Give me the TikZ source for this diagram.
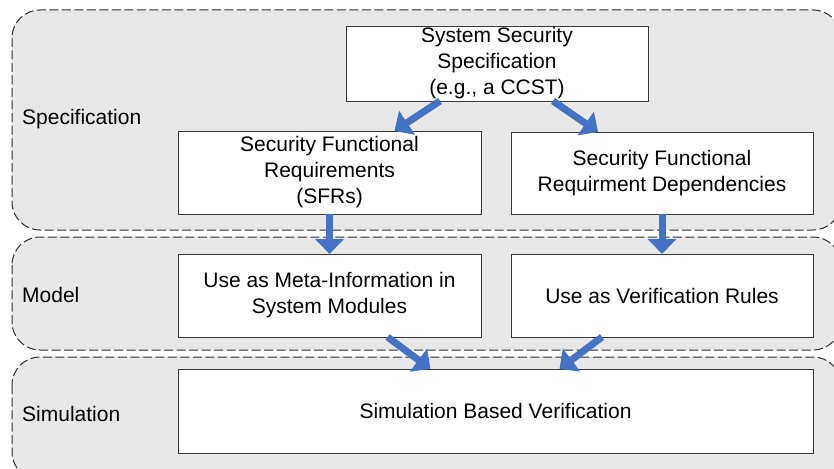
\documentclass[tikz,border=0pt]{standalone}
\usepackage{fontspec}
\setmainfont{Liberation Sans}
\usetikzlibrary{arrows.meta}
\definecolor{bandfill}{HTML}{E8E8E8}
\definecolor{bandline}{HTML}{2E2E2E}
\definecolor{boxline}{HTML}{3A3A3A}
\definecolor{flowblue}{HTML}{4472C4}
\tikzset{
  band/.style={draw=bandline, fill=bandfill, line width=1pt,
    dash pattern=on 9pt off 3.5pt, rounded corners=28pt},
  stagebox/.style={draw=boxline, fill=white, line width=0.9pt,
    inner sep=0pt, outer sep=0pt, align=center,
    font=\fontsize{21pt}{26pt}\selectfont},
  bandlabel/.style={anchor=west, inner sep=0pt,
    font=\fontsize{21pt}{26pt}\selectfont},
  flow/.style={draw=flowblue, line width=7pt,
    -{Triangle[width=28pt,length=15pt]}}
}
\begin{document}
\begin{tikzpicture}[x=1pt,y=-1pt]
\useasboundingbox (0,0) rectangle (834,468);
\clip (0,0) rectangle (834,468);

% three dashed bands
\draw[band] (12,10) rectangle (841,230);
\draw[band] (12,237) rectangle (841,350);
\draw[band] (12,357) rectangle (841,480);

% band labels
\node[bandlabel] (lspec) at (22,119) {Specification};
\node[bandlabel] (lmodel) at (22,295) {Model};
\node[bandlabel] (lsim) at (22,414) {Simulation};

% boxes
\node[stagebox, minimum width=302pt, minimum height=75pt] (sss) at (497,63.5)
  {\raisebox{-1.5pt}{\parbox{300pt}{\centering System Security\\Specification\\(e.g., a CCST)}}};
\node[stagebox, minimum width=303pt, minimum height=83pt] (sfr) at (329.5,172.5)
  {Security Functional\\Requirements\\(SFRs)};
\node[stagebox, minimum width=302pt, minimum height=82pt] (sfrd) at (662,173)
  {Security Functional\\Requirment Dependencies};
\node[stagebox, minimum width=303pt, minimum height=83pt] (meta) at (329.5,295.5)
  {Use as Meta-Information in\\System Modules};
\node[stagebox, minimum width=302pt, minimum height=83pt] (rules) at (662,295.5)
  {Use as Verification Rules};
\node[stagebox, minimum width=635pt, minimum height=84pt] (sim) at (495.5,411)
  {Simulation Based Verification};

% flow arrows
\draw[flow] ([xshift=-57pt]sss.south) -- ([xshift=65pt]sfr.north);
\draw[flow] ([xshift=56pt]sss.south) -- ([xshift=-64pt]sfrd.north);
\draw[flow] (sfr.south) -- (meta.north);
\draw[flow] (sfrd.south) -- (rules.north);
\draw[flow] ([xshift=58pt]meta.south) -- ([xshift=-65pt]sim.north);
\draw[flow] ([xshift=-60pt]rules.south) -- ([xshift=64pt]sim.north);
\end{tikzpicture}
\end{document}
